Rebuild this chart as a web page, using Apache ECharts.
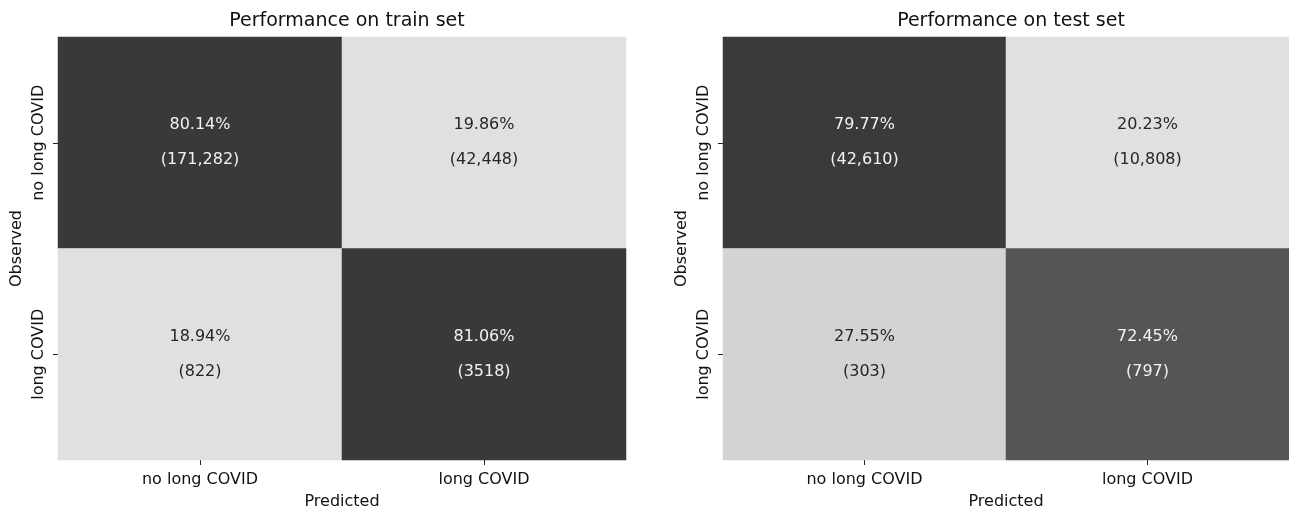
<!DOCTYPE html>
<html>
<head>
<meta charset="utf-8">
<script src="https://cdn.jsdelivr.net/npm/echarts@6/dist/echarts.min.js"></script>
<style>
  html, body { margin: 0; padding: 0; background: #ffffff; }
  #chart { width: 1289px; height: 509px; }
</style>
</head>
<body>
<div id="chart"></div>
<script>
// Class labels (predicted on x, observed on y)
const classes = ['no long COVID', 'long COVID'];

// Row-normalised percentages, rows = observed, cols = predicted
const trainPct = [[80.14, 19.86], [18.94, 81.06]];
const trainCount = [['171,282', '42,448'], ['822', '3518']];
const testPct = [[79.77, 20.23], [27.55, 72.45]];
const testCount = [['42,610', '10,808'], ['303', '797']];

const titles = ['Performance on train set', 'Performance on test set'];

const FONT = 'DejaVu Sans';

function cells(pct, counts) {
  const out = [];
  for (let r = 0; r < 2; r++) {
    for (let c = 0; c < 2; c++) {
      const v = pct[r][c];
      out.push({
        value: [c, r, v],
        count: counts[r][c],
        // light text on dark cells, dark text on light cells
        label: { color: v > 50 ? '#f2f2f2' : '#262626' }
      });
    }
  }
  return out;
}

const grids = [
  { left: 58, top: 37, width: 568, height: 423, outerBoundsMode: 'none', containLabel: false },
  { left: 723, top: 37, width: 566, height: 423, outerBoundsMode: 'none', containLabel: false }
];

const axisCommon = {
  type: 'category',
  data: classes,
  axisLine: { show: false },
  axisTick: { show: true, length: 5, alignWithLabel: true, lineStyle: { color: '#222', width: 1 } },
  splitLine: { show: false },
  nameTextStyle: { fontFamily: FONT, fontSize: 16, color: '#111' }
};

const option = {
  backgroundColor: '#ffffff',
  animation: false,
  title: titles.map((t, i) => ({
    text: t,
    left: grids[i].left + grids[i].width / 2,
    top: 7,
    textAlign: 'center',
    textStyle: { fontFamily: FONT, fontSize: 19, fontWeight: 'normal', color: '#111' }
  })),
  grid: grids,
  xAxis: grids.map((g, i) => Object.assign({}, axisCommon, {
    gridIndex: i,
    position: 'bottom',
    name: 'Predicted',
    nameLocation: 'middle',
    nameGap: 34,
    axisLabel: { fontFamily: FONT, fontSize: 16, color: '#111', margin: 12 }
  })),
  yAxis: grids.map((g, i) => Object.assign({}, axisCommon, {
    gridIndex: i,
    inverse: true,
    name: 'Observed',
    nameLocation: 'middle',
    nameGap: 33,
    axisLabel: { fontFamily: FONT, fontSize: 16, color: '#111', rotate: 90, margin: 11 }
  })),
  visualMap: {
    show: false,
    type: 'continuous',
    min: 20,
    max: 80,
    dimension: 2,
    inRange: {
      color: ['#e0e0e0', '#d3d3d3', '#c0c0c0', '#acacac', '#979797',
               '#828282', '#6c6c6c', '#555555', '#393939']
    }
  },
  series: [
    [trainPct, trainCount],
    [testPct, testCount]
  ].map(([p, c], i) => ({
    type: 'heatmap',
    xAxisIndex: i,
    yAxisIndex: i,
    data: cells(p, c),
    itemStyle: { borderWidth: 0 },
    label: {
      show: true,
      fontFamily: FONT,
      fontSize: 16,
      lineHeight: 35,
      formatter: function (params) {
        return params.value[2].toFixed(2) + '%\n(' + params.data.count + ')';
      }
    }
  }))
};

const chart = echarts.init(document.getElementById('chart'), null, { renderer: 'canvas' });
chart.setOption(option);
</script>
</body>
</html>
